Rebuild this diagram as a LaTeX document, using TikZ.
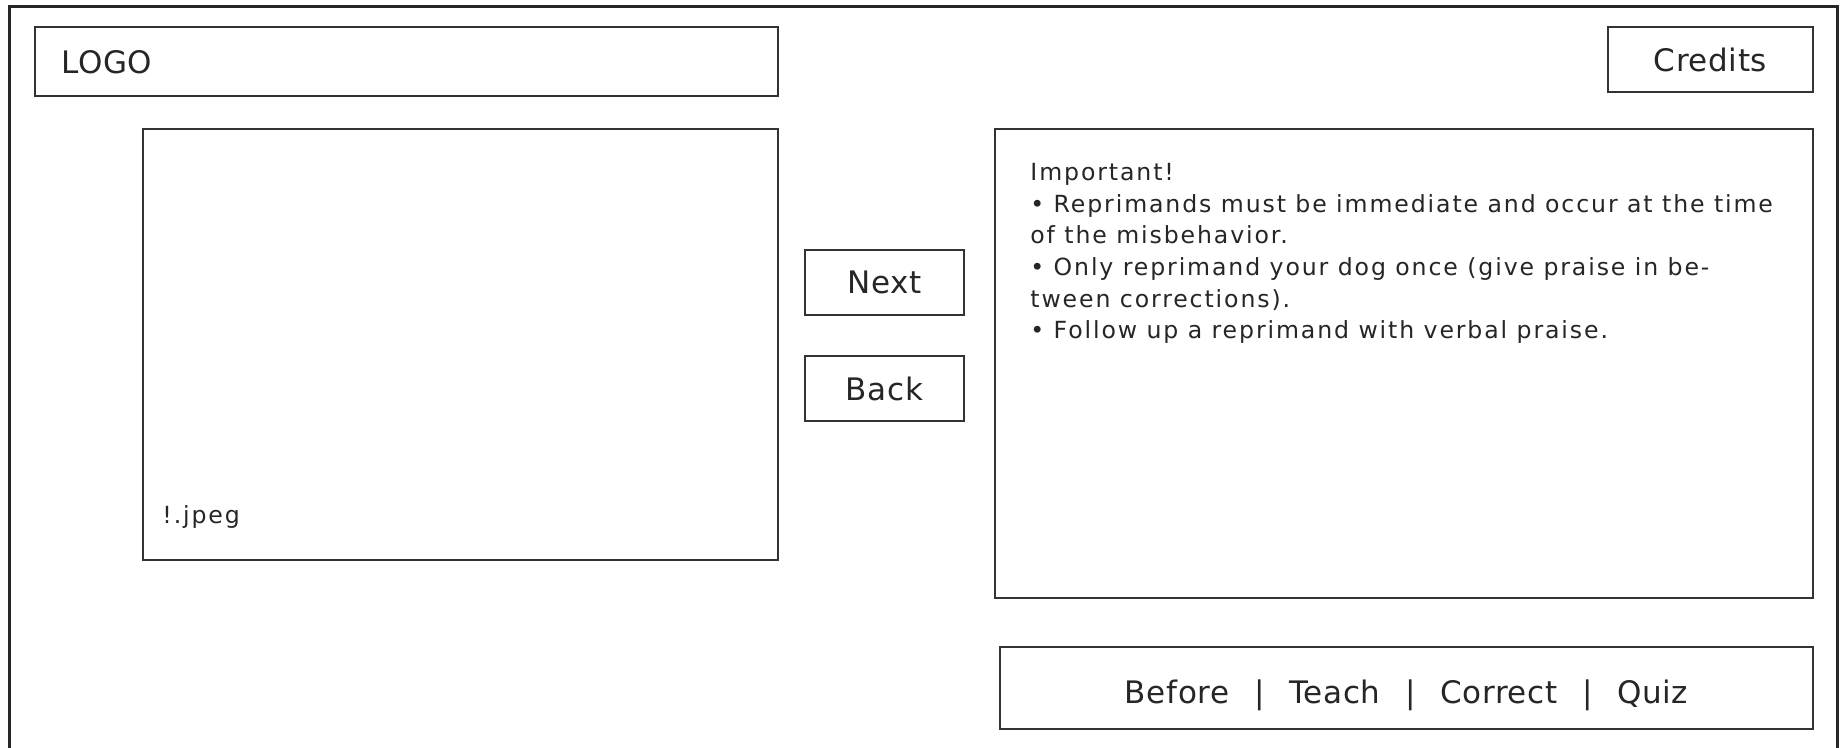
\documentclass[tikz,border=0pt]{standalone}
\usepackage{fontspec}
\setmainfont{DejaVu Sans}
\newfontfamily\bodyfont[LetterSpace=8]{DejaVu Sans}
\newfontfamily\bigfont[LetterSpace=2]{DejaVu Sans}
\newcommand{\menusep}{\hspace{12.4pt}|\hspace{12.4pt}}
\begin{document}
\begin{tikzpicture}[x=0.5pt,y=-0.5pt,
  frame/.style={draw=black!85,line width=1.5pt},
  box/.style={draw=black!80,line width=1.1pt},
  big/.style={font=\bigfont\fontsize{15.5pt}{18pt}\selectfont,text=black!85,inner sep=0pt},
  body/.style={font=\bodyfont\fontsize{11.8pt}{15.8pt}\selectfont,text=black!85,inner sep=0pt,anchor=base west}]
\useasboundingbox (0,0) rectangle (1845,748);
\fill[white] (0,0) rectangle (1845,748);
% page frame (open at the bottom)
\draw[frame] (9.5,760) -- (9.5,7) -- (1837,7) -- (1837,760);
% header
\draw[box] (35,27) rectangle (778,96);
\node[big,anchor=west] (logo) at (61,62) {LOGO};
\draw[box] (1608,27) rectangle (1813,92);
\node[big] (credits) at (1710.5,59.5) {Credits};
% picture area
\draw[box] (143,129) rectangle (778,560);
\node[body] (img) at (162,523) {!.jpeg};
% navigation buttons
\draw[box] (805,250) rectangle (964,315);
\node[big] (next) at (884.5,282.5) {Next};
\draw[box] (805,356) rectangle (964,421);
\node[big] (back) at (884.5,388.5) {Back};
% text panel
\draw[box] (995,129) rectangle (1813,598);
\node[body] (l1) at (1030,181) {Important!};
\node[body] (l2) at (1030,212.5) {• Reprimands must be immediate and occur at the time};
\node[body] (l3) at (1030,244) {of the misbehavior.};
\node[body] (l4) at (1030,275.5) {• Only reprimand your dog once (give praise in be-};
\node[body] (l5) at (1030,307) {tween corrections).};
\node[body] (l6) at (1030,338.5) {• Follow up a reprimand with verbal praise.};
% section menu
\draw[box] (1000,647) rectangle (1813,729);
\node[big,anchor=base] (menu) at (1406.5,703) {Before\menusep Teach\menusep Correct\menusep Quiz};
\end{tikzpicture}
\end{document}
